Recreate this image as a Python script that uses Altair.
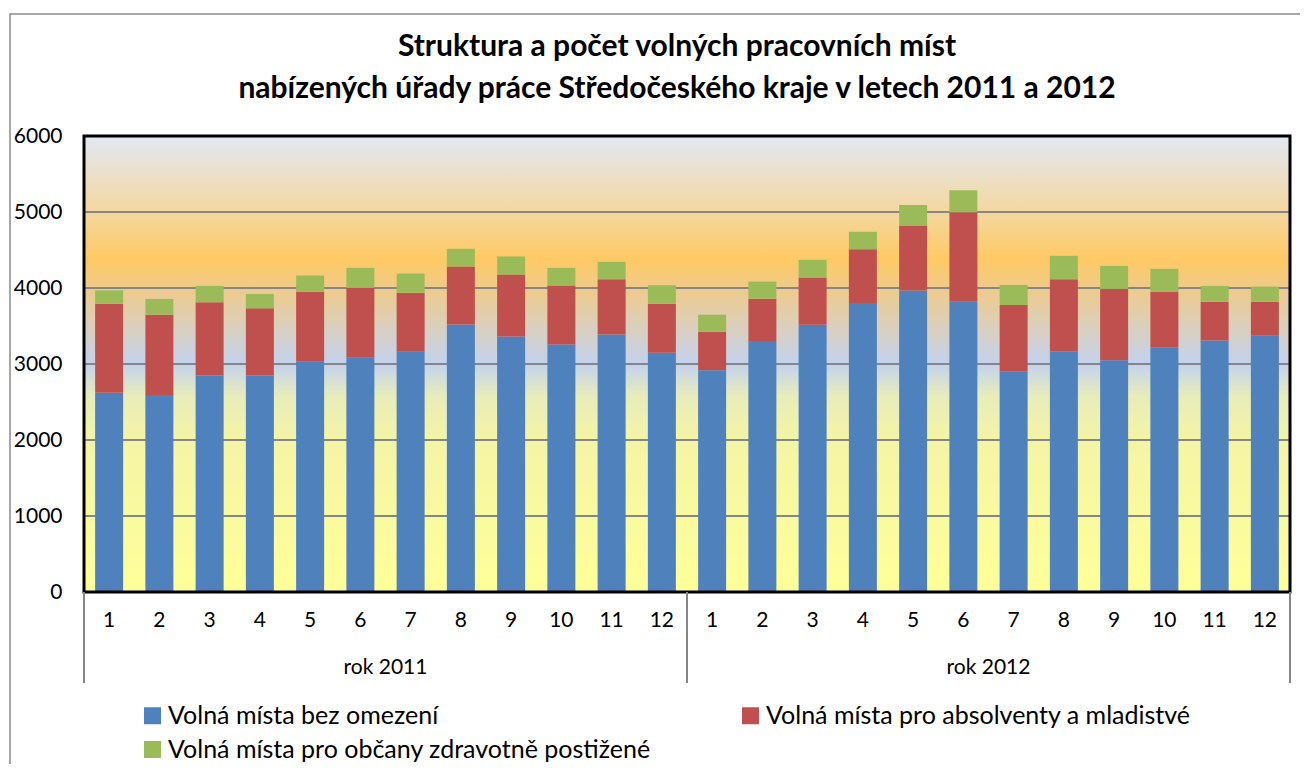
import altair as alt
import pandas as pd

TITLE = ["Struktura a počet volných pracovních míst",
         "nabízených úřady práce Středočeského kraje v letech 2011 a 2012"]
YEARS = ["rok 2011", "rok 2012"]
MONTHS = [1, 2, 3, 4, 5, 6, 7, 8, 9, 10, 11, 12]
SERIES = ["Volná místa bez omezení",
          "Volná místa pro absolventy a mladistvé",
          "Volná místa pro občany zdravotně postižené"]
COLORS = ["#4F81BD", "#C0504D", "#9BBB59"]

# values per month, 2011 then 2012
BEZ_OMEZENI = [2623, 2592, 2848, 2848, 3028, 3081, 3160, 3521, 3363, 3257, 3389, 3147,
               2918, 3301, 3517, 3803, 3966, 3820, 2905, 3169, 3050, 3222, 3310, 3371]
ABSOLVENTI = [1171, 1057, 964, 884, 924, 920, 779, 762, 814, 775, 726, 647,
              506, 559, 620, 708, 858, 1176, 871, 946, 938, 726, 510, 449]
ZDRAV_POSTIZENI = [176, 207, 215, 190, 212, 264, 251, 233, 238, 233, 229, 242,
                   225, 225, 234, 229, 268, 290, 264, 308, 303, 304, 207, 198]
Y_TICKS = [0, 1000, 2000, 3000, 4000, 5000, 6000]

W, H = 1206, 456
FONT = "Lato"

rows = []
for yi, year in enumerate(YEARS):
    for mi, m in enumerate(MONTHS):
        idx = yi * 12 + mi
        for si, (name, vals) in enumerate(zip(SERIES, [BEZ_OMEZENI, ABSOLVENTI, ZDRAV_POSTIZENI])):
            rows.append({"xc": idx + 0.5, "month": str(m), "year": year,
                         "series": name, "ord": si, "value": vals[idx]})
df = pd.DataFrame(rows)
month_df = df[df["ord"] == 0][["xc", "month"]]
year_df = pd.DataFrame({"xc": [6, 18], "label": YEARS})
sep_df = pd.DataFrame({"xs": [0, 12, 24]})
grid_df = pd.DataFrame({"v": Y_TICKS[1:-1]})
one = pd.DataFrame({"a": [0]})

xscale = alt.Scale(domain=[0, 24], nice=False, zero=False, padding=0)
yscale = alt.Scale(domain=[0, 6000], nice=False)
Y_AXIS = alt.Axis(values=Y_TICKS, title=None, grid=False, domain=False, ticks=False,
                  labelFont=FONT, labelFontSize=21, labelColor="black",
                  labelPadding=22, format="d")

gradient = alt.Gradient(
    gradient="linear", x1=0, y1=0, x2=0, y2=1,
    stops=[
        alt.GradientStop(color="#E2E8F5", offset=0.0),
        alt.GradientStop(color="#ECDFC6", offset=0.09),
        alt.GradientStop(color="#F4D79E", offset=0.17),
        alt.GradientStop(color="#FFC964", offset=0.27),
        alt.GradientStop(color="#EDCB8E", offset=0.34),
        alt.GradientStop(color="#DACFBE", offset=0.42),
        alt.GradientStop(color="#C3D2EE", offset=0.50),
        alt.GradientStop(color="#E8ECBA", offset=0.57),
        alt.GradientStop(color="#F4F4A6", offset=0.66),
        alt.GradientStop(color="#FFFF99", offset=1.0),
    ])

frame = alt.Chart(one).mark_rect(fillOpacity=0, stroke="#8C8C8C", strokeWidth=1.5).encode(
    x=alt.value(-74), x2=alt.value(1260), y=alt.value(-122), y2=alt.value(700))

bg = alt.Chart(one).mark_rect(color=gradient).encode(
    x=alt.value(0), x2=alt.value(W), y=alt.value(0), y2=alt.value(H))

grid = alt.Chart(grid_df).mark_rule(color="#868686", strokeWidth=2).encode(
    y=alt.Y("v:Q", scale=yscale, axis=Y_AXIS), x=alt.value(0), x2=alt.value(W))

bars = alt.Chart(df).mark_bar(size=28).encode(
    x=alt.X("xc:Q", scale=xscale, axis=None),
    y=alt.Y("value:Q", stack="zero", scale=yscale, axis=Y_AXIS),
    color=alt.Color("series:N", scale=alt.Scale(domain=SERIES, range=COLORS),
                    legend=alt.Legend(orient="none", legendX=56, legendY=567, columns=2,
                                      direction="horizontal", title=None,
                                      symbolType="square", symbolSize=289,
                                      symbolStrokeWidth=0, labelFont=FONT,
                                      labelFontSize=25, labelColor="black",
                                      labelOffset=3, labelLimit=0, rowPadding=8,
                                      columnPadding=87, padding=0)),
    order=alt.Order("ord:Q", sort="ascending"),
)

border = alt.Chart(one).mark_rect(fillOpacity=0, stroke="black", strokeWidth=3).encode(
    x=alt.value(0), x2=alt.value(W), y=alt.value(0), y2=alt.value(H))

seps = alt.Chart(sep_df).mark_rule(color="#868686", strokeWidth=2).encode(
    x=alt.X("xs:Q", scale=xscale, axis=None), y=alt.value(H), y2=alt.value(H + 91))

months = alt.Chart(month_df).mark_text(font=FONT, fontSize=21, color="black",
                                       baseline="middle", align="center").encode(
    x=alt.X("xc:Q", scale=xscale, axis=None), y=alt.value(485), text="month:N")

years = alt.Chart(year_df).mark_text(font=FONT, fontSize=21, color="black",
                                     baseline="middle", align="center").encode(
    x=alt.X("xc:Q", scale=xscale, axis=None), y=alt.value(532), text="label:N")

t1 = alt.Chart(one).mark_text(font=FONT, fontSize=30, fontWeight="bold", color="black",
                              baseline="middle", align="center", text=TITLE[0]).encode(
    x=alt.value(593), y=alt.value(-89))
t2 = alt.Chart(one).mark_text(font=FONT, fontSize=30, fontWeight="bold", color="black",
                              baseline="middle", align="center", text=TITLE[1]).encode(
    x=alt.value(593), y=alt.value(-47))

chart = alt.layer(frame, bg, grid, bars, border, seps, months, years, t1, t2).properties(
    width=W, height=H,
    autosize=alt.AutoSizeParams(type="none"),
    padding={"left": 76, "top": 128, "right": 10, "bottom": 172},
).configure_view(stroke=None).configure(background="white")

chart.save("out.html", embed_options={"renderer": "svg", "actions": False})
